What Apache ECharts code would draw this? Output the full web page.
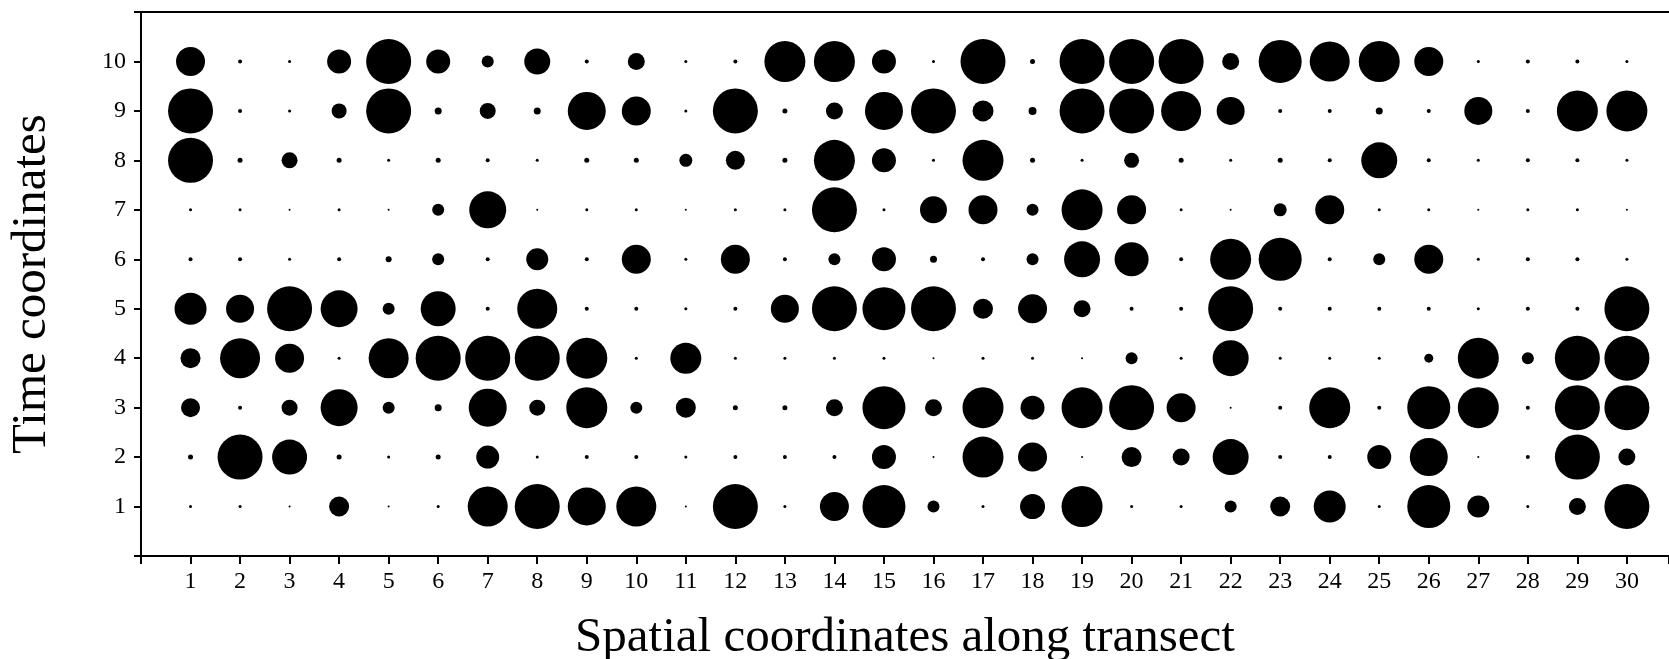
<!DOCTYPE html>
<html>
<head>
<meta charset="utf-8">
<script src="https://cdn.jsdelivr.net/npm/echarts@6/dist/echarts.min.js"></script>
<style>
html,body{margin:0;padding:0;background:#fff;}
#chart{width:1669px;height:659px;}
</style>
</head>
<body>
<div id="chart"></div>
<script>
// Spatial coordinates along transect
var spatial = [1,2,3,4,5,6,7,8,9,10,11,12,13,14,15,16,17,18,19,20,21,22,23,24,25,26,27,28,29,30];
// Time coordinates
var timeCoords = [1,2,3,4,5,6,7,8,9,10];

// Bubble magnitudes for each time coordinate (one value per spatial coordinate)
var t1  = [3,3,2,20,2,3,40,45,38,40,2,45,3,29,43,12,3,25,41,3,3,12,20,32,3,43,22,3,17,45];
var t2  = [5,45,35,5,3,5,23,3,4,4,3,4,4,4,24,2,41,29,2,20,17,36,4,4,24,38,2,4,45,17];
var t3  = [19,4,16,37,12,7,38,16,41,12,20,5,5,17,43,17,41,24,41,45,29,2,4,41,4,43,41,4,45,45];
var t4  = [20,40,29,3,40,45,45,45,41,3,31,3,3,3,3,2,3,3,2,12,3,36,3,3,3,9,41,12,45,45];
var t5  = [32,28,45,37,12,35,4,40,4,4,3,4,28,45,43,45,20,29,17,4,4,45,4,4,4,4,3,4,4,45];
var t6  = [4,4,3,4,6,12,4,22,4,29,3,29,4,12,24,7,4,12,36,34,4,41,43,4,12,29,3,4,4,3];
var t7  = [3,3,2,3,2,12,37,2,3,3,2,3,3,45,3,27,29,12,41,29,3,2,13,29,3,3,2,3,3,2];
var t8  = [45,5,16,5,3,5,4,3,5,5,13,19,5,41,24,3,41,5,3,15,5,3,5,4,36,4,3,4,4,3];
var t9  = [45,4,3,15,45,7,16,7,38,29,3,45,5,17,38,45,21,8,45,45,40,28,4,4,7,4,28,4,41,41];
var t10 = [29,4,3,24,45,24,12,26,4,17,3,4,41,41,24,3,45,5,45,45,45,17,43,40,41,29,3,4,4,3];

var rows = [t1,t2,t3,t4,t5,t6,t7,t8,t9,t10];
var points = [];
timeCoords.forEach(function(t, i){
  spatial.forEach(function(s, j){
    points.push([s, t, rows[i][j]]);
  });
});

var serif = 'Liberation Serif, Times New Roman, serif';
var chart = echarts.init(document.getElementById('chart'));
chart.setOption({
  animation: false,
  backgroundColor: '#ffffff',
  grid: {left: 141, right: 0, top: 12, bottom: 103, containLabel: false, outerBoundsMode: 'none'},
  xAxis: [{
    type: 'value', min: 0, max: 30.85, interval: 1,
    name: 'Spatial coordinates along transect',
    nameLocation: 'middle', nameGap: 58,
    nameTextStyle: {fontFamily: serif, fontSize: 49, color: '#000'},
    axisLine: {show: true, onZero: false, lineStyle: {color: '#000', width: 2}},
    axisTick: {show: true, length: 8, lineStyle: {color: '#000', width: 2}},
    axisLabel: {
      fontFamily: serif, fontSize: 24, color: '#000', margin: 14,
      formatter: function(v){ return (v >= 1 && v <= 30 && Math.abs(v - Math.round(v)) < 1e-6) ? String(Math.round(v)) : ''; }
    },
    splitLine: {show: false}
  }, {
    type: 'value', position: 'top', min: 0, max: 30.85, interval: 1,
    axisLine: {show: true, onZero: false, lineStyle: {color: '#000', width: 2}},
    axisTick: {show: false}, axisLabel: {show: false}, splitLine: {show: false}
  }],
  yAxis: {
    type: 'value', min: 0, max: 11, interval: 1,
    name: 'Time coordinates',
    nameLocation: 'middle', nameGap: 84,
    nameTextStyle: {fontFamily: serif, fontSize: 49, color: '#000'},
    axisLine: {show: true, onZero: false, lineStyle: {color: '#000', width: 2}},
    axisTick: {show: true, length: 7, lineStyle: {color: '#000', width: 2}},
    axisLabel: {
      fontFamily: serif, fontSize: 24, color: '#000', margin: 15,
      formatter: function(v){ return (v >= 1 && v <= 10) ? String(v) : ''; }
    },
    splitLine: {show: false}
  },
  series: [{
    type: 'scatter',
    data: points,
    symbol: 'circle',
    symbolSize: function(v){ return v[2]; },
    itemStyle: {color: '#000', opacity: 1},
    emphasis: {disabled: true}
  }]
});
</script>
</body>
</html>
